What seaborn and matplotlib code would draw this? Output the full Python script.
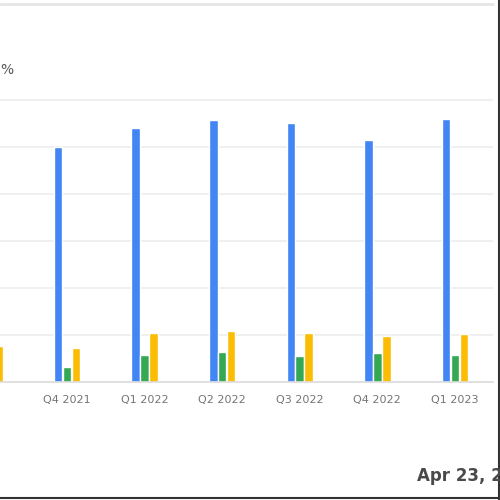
import matplotlib
matplotlib.use("Agg")
import matplotlib.pyplot as plt
from matplotlib.lines import Line2D
import pandas as pd
import seaborn as sns

# quarters (first one is mostly cut off at the left edge)
quarters = ['Q3 2021', 'Q4 2021', 'Q1 2022', 'Q2 2022', 'Q3 2022', 'Q4 2022', 'Q1 2023']
# values in gridline units
blue_vals = [4.8, 5.0, 5.40, 5.57, 5.51, 5.15, 5.60]
green_vals = [0.30, 0.32, 0.57, 0.64, 0.55, 0.62, 0.57]
yellow_vals = [0.77, 0.72, 1.04, 1.09, 1.04, 0.98, 1.02]
series = ['a', 'b', 'c']
colores = ['#4285F4', '#34A853', '#FBBC04']
fecha = 'Apr 23, 2023'

df = pd.DataFrame({'quarter': quarters * 3,
                   'serie': [series[0]] * 7 + [series[1]] * 7 + [series[2]] * 7,
                   'valor': blue_vals + green_vals + yellow_vals})

sns.set_style("white")
plt.rcParams['font.family'] = ['DejaVu Sans']

fig = plt.figure(figsize=(5, 5), dpi=100)
ax = fig.add_axes([0, 118 / 500, 493 / 500, 305.5 / 500])

sns.barplot(data=df, x='quarter', y='valor', hue='serie', order=quarters,
            hue_order=series, palette=colores, width=0.345, gap=0.04,
            saturation=1, ax=ax, legend=False)

ax.set_xlim(0.137, 6.49)
ax.set_ylim(0, 6.5)
ax.set_yticks([0, 1, 2, 3, 4, 5, 6])
ax.yaxis.grid(True, color='#ededed', linewidth=1.2)
ax.set_axisbelow(True)
for s in ['top', 'right', 'left']:
    ax.spines[s].set_visible(False)
ax.spines['bottom'].set_color('#dcdcdc')
ax.spines['bottom'].set_linewidth(1.2)
ax.tick_params(left=False, labelleft=False, bottom=False,
               labelsize=8, labelcolor='#757575', pad=6)
ax.set_xlabel('')
ax.set_ylabel('')

# texto cortado arriba a la izquierda
fig.text(13 / 500, 1 - 70 / 500, '%', ha='right', va='center',
         fontsize=10, color='#555555')
# fecha abajo a la derecha (cortada por el borde, como en la captura)
fig.text(417 / 500, 1 - 476 / 500, fecha, ha='left', va='center',
         fontsize=12, color='#4a4a4a', weight='bold')

# bordes de la captura
fig.add_artist(Line2D([0, 493 / 500], [1 - 4 / 500, 1 - 4 / 500],
                      color='#e6e6e6', lw=2))
fig.add_artist(Line2D([0.998, 0.998], [0, 1], color='#333333', lw=1.5))
fig.add_artist(Line2D([0, 1], [0.004, 0.004], color='#333333', lw=1.5))

fig.savefig('out.png', dpi=100)
